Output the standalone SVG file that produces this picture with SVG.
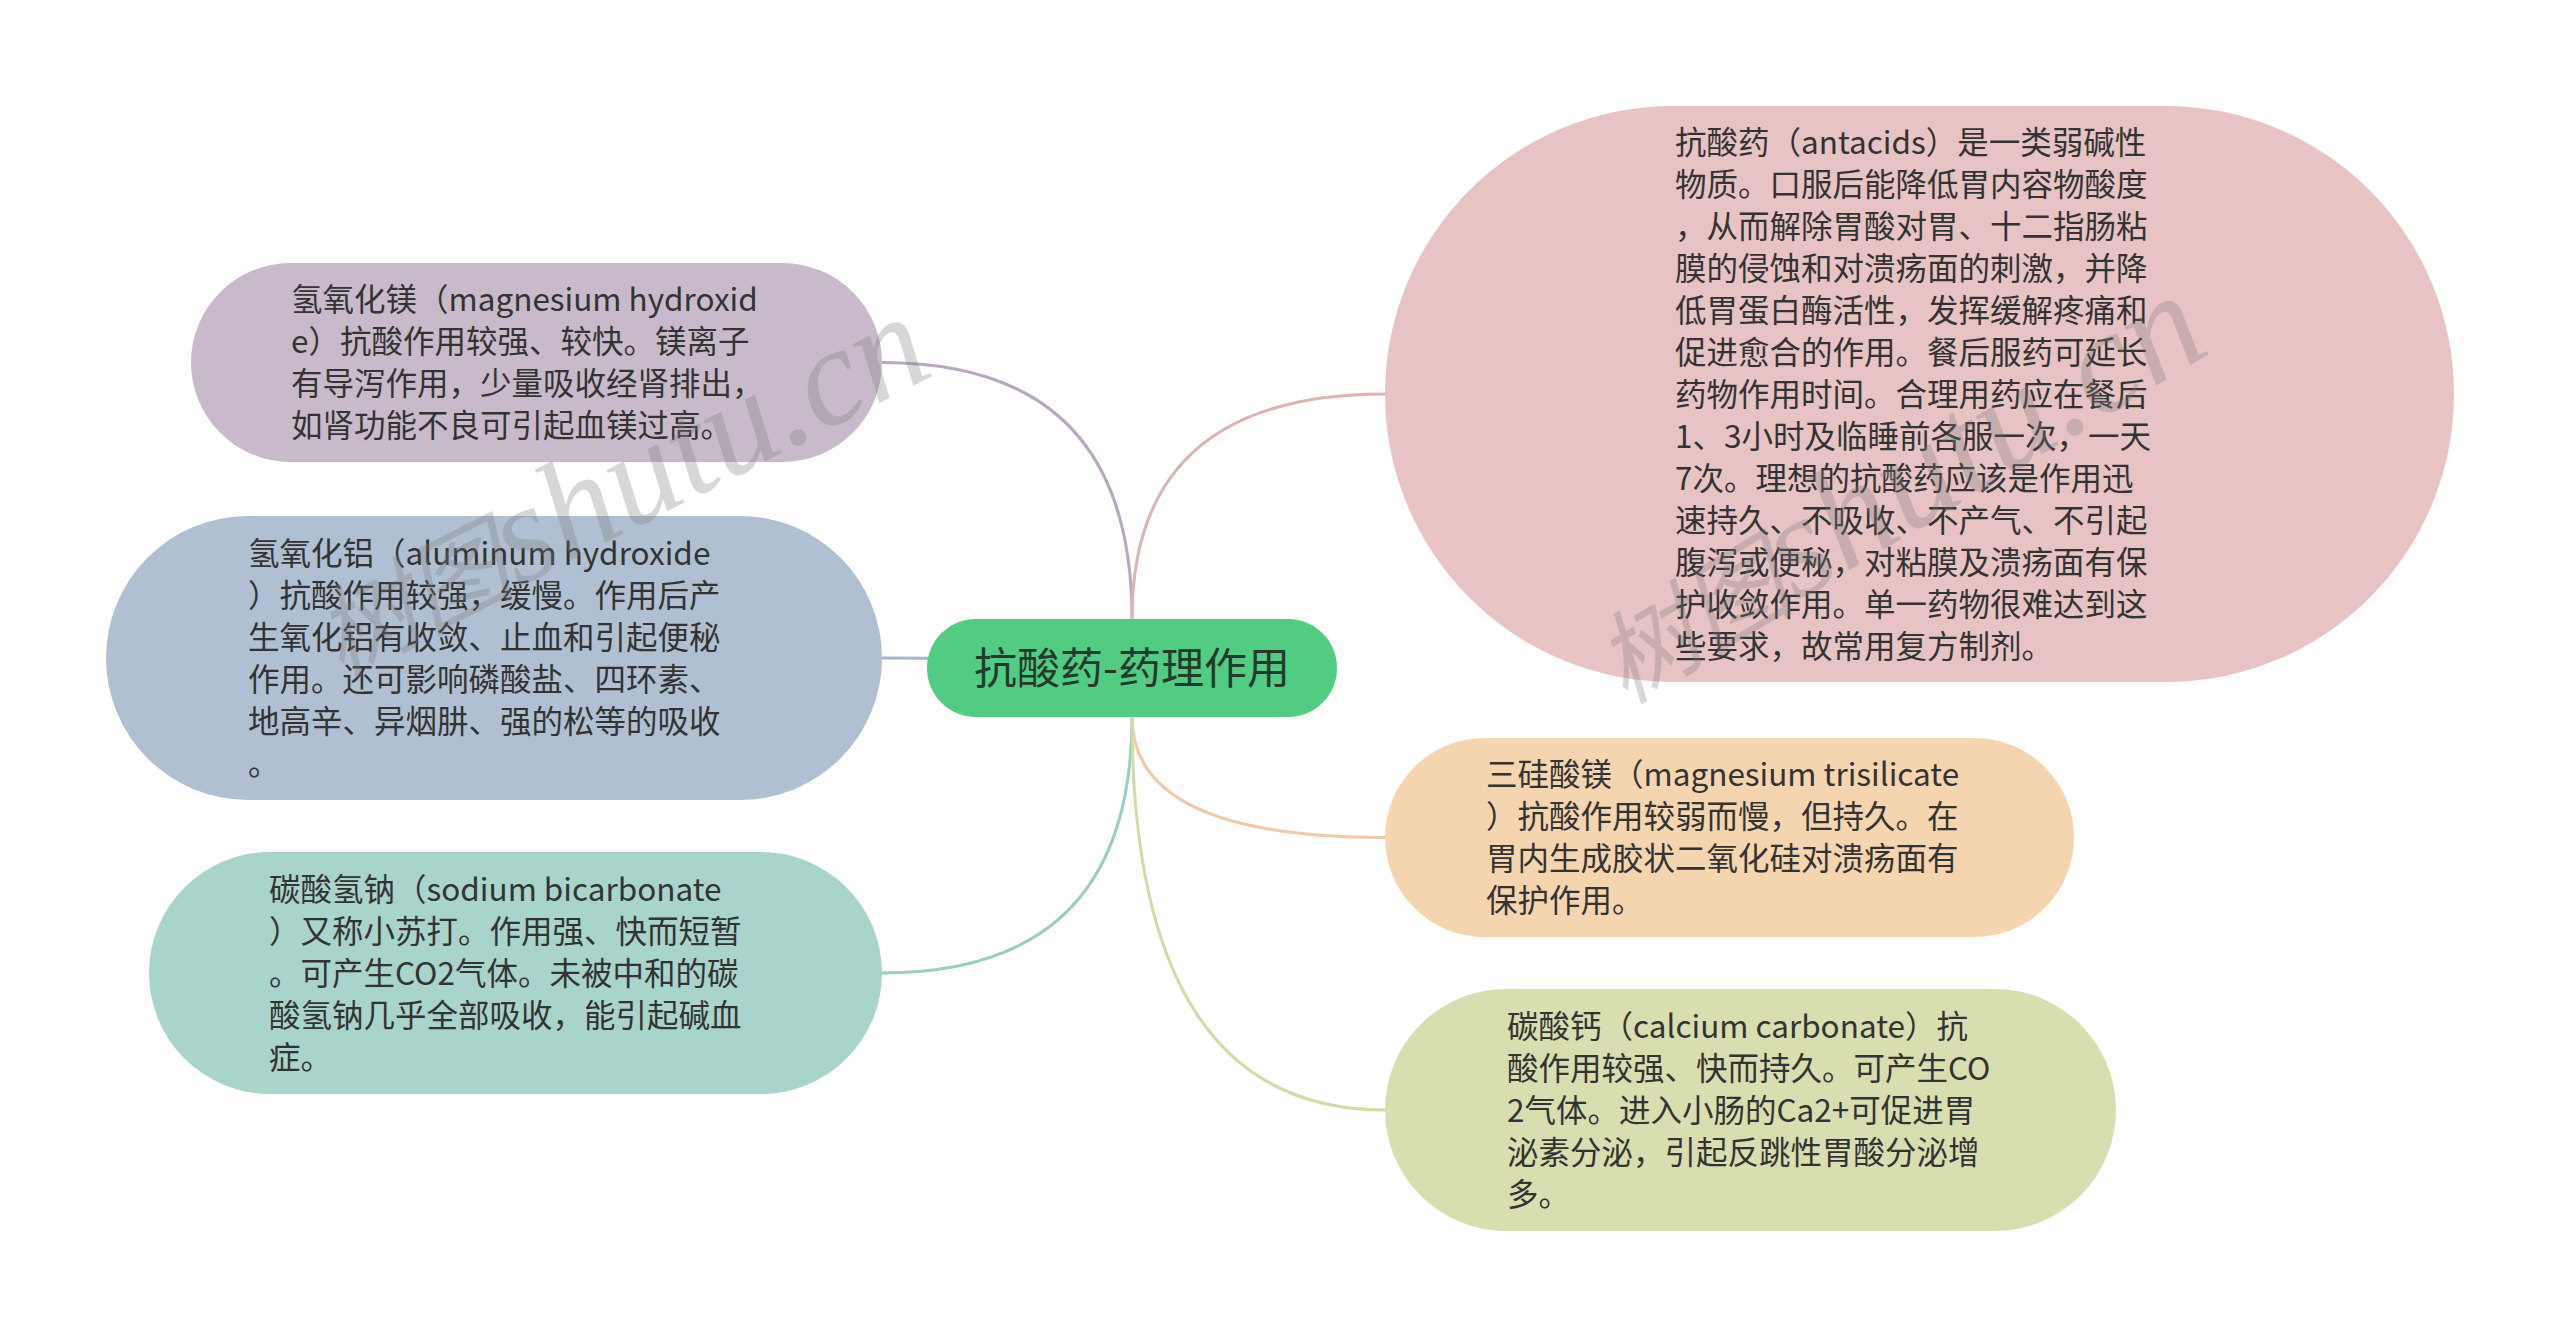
<svg xmlns="http://www.w3.org/2000/svg" width="2560" height="1337" viewBox="0 0 2560 1337">
<style>
.t{font-family:"Noto Sans CJK SC","Noto Sans",sans-serif;font-size:31.5px;fill:#333333;}
.c{font-family:"Noto Sans CJK SC","Noto Sans",sans-serif;font-size:43px;fill:#233a2c;text-anchor:middle;}
.ln{fill:none;stroke-width:3;stroke-linecap:round;}
.wm{font-family:"Liberation Serif","Noto Sans CJK SC",serif;font-style:italic;fill:#7a7a7a;fill-opacity:0.3;}
</style>
<rect width="2560" height="1337" fill="#ffffff"/>
<g id="connectors">
<path class="ln" stroke="#b8a8bd" d="M1132,619 Q1132,362.5 882,362.5"/>
<path class="ln" stroke="#a8b6ca" d="M1132,668 Q1132,658 882,658"/>
<path class="ln" stroke="#9ccdc3" d="M1132,717 Q1132,973 882,973"/>
<path class="ln" stroke="#dcb4b4" d="M1132,619 Q1132,394 1385,394"/>
<path class="ln" stroke="#eecaa8" d="M1132,717 Q1132,837.5 1385,837.5"/>
<path class="ln" stroke="#d4daa6" d="M1132,717 Q1132,1110 1385,1110"/>
</g>
<g id="center">
<rect x="927" y="619" width="410" height="98" rx="49" fill="#52cb83"/>
<text class="c" x="1132" y="684">抗酸药-药理作用</text>
</g>
<g id="n1">
<rect x="191" y="263" width="691" height="199" rx="99.5" fill="#c9bacb"/>
<text class="t"><tspan x="291" y="311">氢氧化镁（magnesium hydroxid</tspan><tspan x="291" y="353">e）抗酸作用较强、较快。镁离子</tspan><tspan x="291" y="395">有导泻作用，少量吸收经肾排出，</tspan><tspan x="291" y="437">如肾功能不良可引起血镁过高。</tspan></text>
</g>
<g id="n2">
<rect x="106" y="516" width="776" height="284" rx="142" fill="#b0c0d2"/>
<text class="t"><tspan x="248" y="565">氢氧化铝（aluminum hydroxide</tspan><tspan x="248" y="607">）抗酸作用较强，缓慢。作用后产</tspan><tspan x="248" y="649">生氧化铝有收敛、止血和引起便秘</tspan><tspan x="248" y="691">作用。还可影响磷酸盐、四环素、</tspan><tspan x="248" y="733">地高辛、异烟肼、强的松等的吸收</tspan><tspan x="248" y="775">。</tspan></text>
</g>
<g id="n3">
<rect x="149" y="852" width="733" height="242" rx="121" fill="#a9d4cb"/>
<text class="t"><tspan x="269" y="901">碳酸氢钠（sodium bicarbonate</tspan><tspan x="269" y="943">）又称小苏打。作用强、快而短暂</tspan><tspan x="269" y="985">。可产生CO2气体。未被中和的碳</tspan><tspan x="269" y="1027">酸氢钠几乎全部吸收，能引起碱血</tspan><tspan x="269" y="1069">症。</tspan></text>
</g>
<g id="n4">
<rect x="1385" y="106" width="1069" height="576" rx="288" fill="#e8c3c3"/>
<text class="t"><tspan x="1675" y="154">抗酸药（antacids）是一类弱碱性</tspan><tspan x="1675" y="196">物质。口服后能降低胃内容物酸度</tspan><tspan x="1675" y="238">，从而解除胃酸对胃、十二指肠粘</tspan><tspan x="1675" y="280">膜的侵蚀和对溃疡面的刺激，并降</tspan><tspan x="1675" y="322">低胃蛋白酶活性，发挥缓解疼痛和</tspan><tspan x="1675" y="364">促进愈合的作用。餐后服药可延长</tspan><tspan x="1675" y="406">药物作用时间。合理用药应在餐后</tspan><tspan x="1675" y="448">1、3小时及临睡前各服一次，一天</tspan><tspan x="1675" y="490">7次。理想的抗酸药应该是作用迅</tspan><tspan x="1675" y="532">速持久、不吸收、不产气、不引起</tspan><tspan x="1675" y="574">腹泻或便秘，对粘膜及溃疡面有保</tspan><tspan x="1675" y="616">护收敛作用。单一药物很难达到这</tspan><tspan x="1675" y="658">些要求，故常用复方制剂。</tspan></text>
</g>
<g id="n5">
<rect x="1385" y="738" width="689" height="199" rx="99.5" fill="#f5d5b0"/>
<text class="t"><tspan x="1486" y="786">三硅酸镁（magnesium trisilicate</tspan><tspan x="1486" y="828">）抗酸作用较弱而慢，但持久。在</tspan><tspan x="1486" y="870">胃内生成胶状二氧化硅对溃疡面有</tspan><tspan x="1486" y="912">保护作用。</tspan></text>
</g>
<g id="n6">
<rect x="1385" y="989" width="731" height="242" rx="121" fill="#d9deb0"/>
<text class="t"><tspan x="1507" y="1038">碳酸钙（calcium carbonate）抗</tspan><tspan x="1507" y="1080">酸作用较强、快而持久。可产生CO</tspan><tspan x="1507" y="1122">2气体。进入小肠的Ca2+可促进胃</tspan><tspan x="1507" y="1164">泌素分泌，引起反跳性胃酸分泌增</tspan><tspan x="1507" y="1206">多。</tspan></text>
</g>
<g id="watermarks">
<text class="wm" transform="translate(340,678) rotate(-27)"><tspan font-size="100">树图</tspan><tspan font-size="140">shutu.cn</tspan></text>
<text class="wm" transform="translate(1625,705) rotate(-31)"><tspan font-size="100">树图</tspan><tspan font-size="145">shutu.cn</tspan></text>
</g>
</svg>
